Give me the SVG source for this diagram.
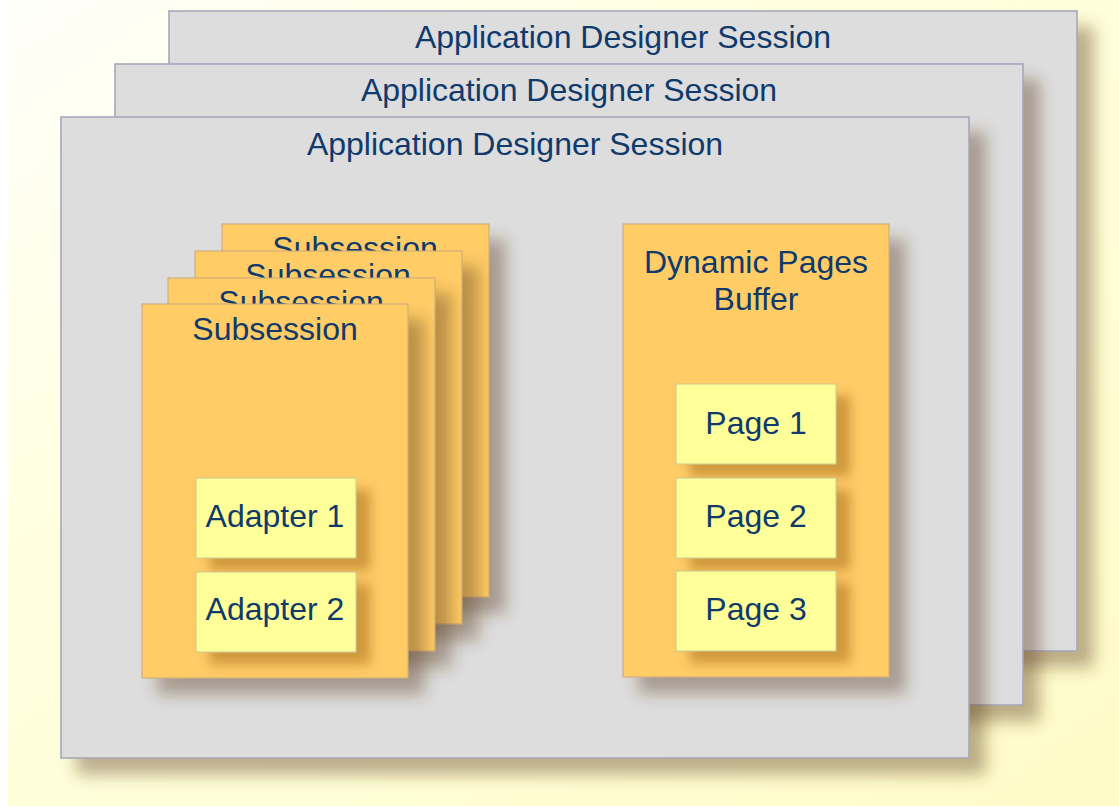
<svg xmlns="http://www.w3.org/2000/svg" width="1119" height="806" viewBox="0 0 1119 806">
<defs>
<linearGradient id="bg" x1="0" y1="0" x2="1" y2="1">
<stop offset="0" stop-color="#FFFFFA"/>
<stop offset="0.35" stop-color="#FFFFE0"/>
<stop offset="1" stop-color="#FFFBC8"/>
</linearGradient>
<filter id="sh" x="-10%" y="-10%" width="130%" height="130%">
<feDropShadow dx="16" dy="16" stdDeviation="8" flood-color="#5a3818" flood-opacity="0.4"/>
</filter>
<filter id="shs" x="-20%" y="-20%" width="150%" height="150%">
<feDropShadow dx="14" dy="12" stdDeviation="6" flood-color="#8a4a10" flood-opacity="0.4"/>
</filter>
<clipPath id="c4"><rect x="222" y="224" width="267" height="27"/></clipPath>
<clipPath id="c3"><rect x="195" y="251" width="267" height="27"/></clipPath>
<clipPath id="c2"><rect x="168" y="278" width="267" height="26"/></clipPath>
</defs>
<style>
.session{fill:#DDDDDD;stroke:#A2A2B6;stroke-width:1.5}
.orange{fill:#FFCC66;stroke:#C8A87A;stroke-width:1}
.yel{fill:#FFFF99;stroke:#C8C890;stroke-width:1}
text{font-family:"Liberation Sans",Arial,sans-serif;font-size:32px;fill:#103A6C;text-anchor:middle}
</style>
<rect x="8" y="0" width="1111" height="806" fill="url(#bg)"/>
<g id="session3">
<rect class="session" x="169" y="11" width="908" height="640" filter="url(#sh)"/>
<text x="623" y="48">Application Designer Session</text>
</g>
<g id="session2">
<rect class="session" x="115" y="64" width="908" height="641" filter="url(#sh)"/>
<text x="569" y="101">Application Designer Session</text>
</g>
<g id="session1">
<rect class="session" x="61" y="117" width="908" height="641" filter="url(#sh)"/>
<text x="515" y="155">Application Designer Session</text>
</g>
<g id="subsession4">
<rect class="orange" x="222" y="224" width="267" height="373" filter="url(#sh)"/>
<text x="355" y="259" clip-path="url(#c4)">Subsession</text>
</g>
<g id="subsession3">
<rect class="orange" x="195" y="251" width="267" height="373" filter="url(#sh)"/>
<text x="328" y="286" clip-path="url(#c3)">Subsession</text>
</g>
<g id="subsession2">
<rect class="orange" x="168" y="278" width="267" height="373" filter="url(#sh)"/>
<text x="301" y="313" clip-path="url(#c2)">Subsession</text>
</g>
<g id="subsession1">
<rect class="orange" x="142" y="304" width="266" height="374" filter="url(#sh)"/>
<text x="275" y="340">Subsession</text>
</g>
<g id="adapter1">
<rect class="yel" x="196" y="478" width="160" height="80" filter="url(#shs)"/>
<text x="275" y="527">Adapter 1</text>
</g>
<g id="adapter2">
<rect class="yel" x="196" y="572" width="160" height="80" filter="url(#shs)"/>
<text x="275" y="620">Adapter 2</text>
</g>
<g id="buffer">
<rect class="orange" x="623" y="224" width="266" height="453" filter="url(#sh)"/>
<text x="756" y="273">Dynamic Pages</text>
<text x="756" y="310">Buffer</text>
</g>
<g id="page1">
<rect class="yel" x="676" y="384" width="160" height="80" filter="url(#shs)"/>
<text x="756" y="434">Page 1</text>
</g>
<g id="page2">
<rect class="yel" x="676" y="478" width="160" height="80" filter="url(#shs)"/>
<text x="756" y="527">Page 2</text>
</g>
<g id="page3">
<rect class="yel" x="676" y="571" width="160" height="80" filter="url(#shs)"/>
<text x="756" y="620">Page 3</text>
</g>
<g id="connectors"/>
</svg>
